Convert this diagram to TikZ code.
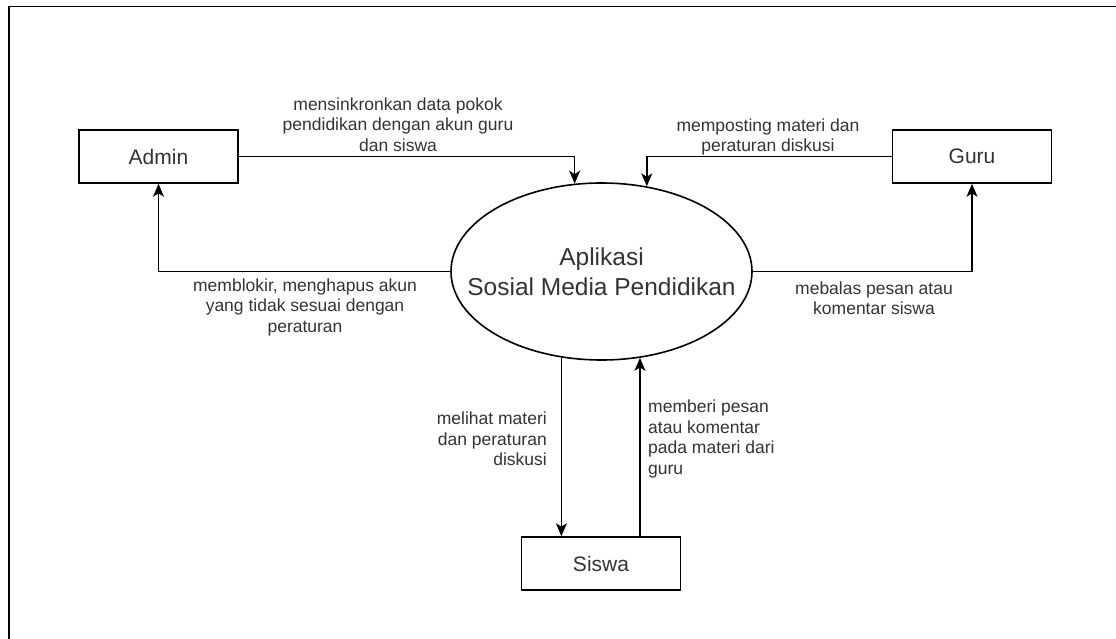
\documentclass[tikz,border=0pt]{standalone}
\usepackage{fontspec}
\setmainfont{Liberation Sans}
\usetikzlibrary{shapes.geometric,arrows.meta}
\definecolor{txt}{HTML}{333333}
\tikzset{
  entity/.style={draw=black, line width=1.6pt, rectangle, minimum width=159pt, minimum height=53pt, inner sep=0pt, text=txt, font=\fontsize{21}{24}\selectfont},
  proc/.style={draw=black, line width=1.6pt, ellipse, minimum width=301pt, minimum height=177pt, inner sep=0pt},
  proctext/.style={text=txt, align=center, inner sep=0pt, font=\fontsize{24.5}{30}\selectfont},
  flow/.style={line width=1.6pt, -{Stealth[length=13pt,width=11pt,inset=3.5pt]}},
  lbl/.style={text=txt, inner sep=0pt, font=\fontsize{17.5}{20.5}\selectfont}
}
\begin{document}
\begin{tikzpicture}[x=1pt,y=-1pt]
\useasboundingbox (0,0) rectangle (1116,639);
\draw[line width=1.8pt] (9,640) -- (9,6.5) -- (1117,6.5);
\node[entity] (admin) at (158.5,156.5) {Admin};
\node[entity] (guru) at (972,156.5) {Guru};
\node[entity] (siswa) at (601,563.5) {Siswa};
\node[proc] (app) at (601.5,271.5) {};
\node[proctext] (apptext) at (app.center) {Aplikasi\\Sosial Media Pendidikan};
\draw[flow] (admin.east) -| (app.107.5);
\draw[flow] (guru.west) -| (app.62.8);
\draw[flow] (app.west) -| (admin.south);
\draw[flow] (app.east) -| (guru.south);
\draw[flow] (app.245.2) -- (app.245.2 |- siswa.north);
\draw[flow] (app.294.2 |- siswa.north) -- (app.294.2);
\node[lbl, align=center] (l1) at (398,124.5) {mensinkronkan data pokok\\pendidikan dengan akun guru\\dan siswa};
\node[lbl, align=center] (l2) at (768,137) {memposting materi dan\\peraturan diskusi};
\node[lbl, align=center] (l3) at (305,307) {memblokir, menghapus akun\\yang tidak sesuai dengan\\peraturan};
\node[lbl, align=center] (l4) at (874,298) {mebalas pesan atau\\komentar siswa};
\node[lbl, align=right, anchor=east] (l5) at (547,439) {melihat materi\\dan peraturan\\diskusi};
\node[lbl, align=left, anchor=west] (l6) at (648,439) {memberi pesan\\atau komentar\\pada materi dari\\guru};
\end{tikzpicture}
\end{document}
